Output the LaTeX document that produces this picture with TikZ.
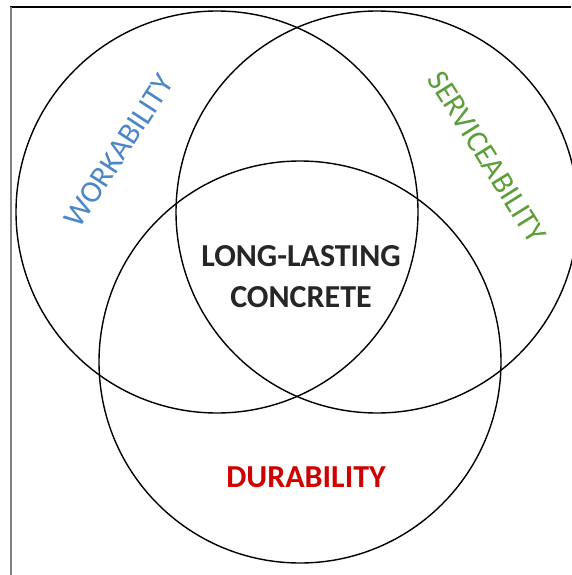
\documentclass[tikz,border=0pt]{standalone}
\usepackage{fontspec}
\setmainfont{Carlito}
\definecolor{workblue}{RGB}{74,134,200}
\definecolor{servgreen}{RGB}{92,158,58}
\definecolor{durared}{RGB}{208,0,0}
\definecolor{coretext}{RGB}{38,38,38}
\begin{document}
\begin{tikzpicture}[x=1pt,y=-1pt,
	ring/.style={draw=black,line width=1.4pt},
	sidetxt/.style={font=\fontsize{31}{36}\selectfont,inner sep=0pt},
	midtxt/.style={font=\fontsize{32}{38}\selectfont\bfseries,inner sep=0pt,anchor=base}]
	\useasboundingbox (0,0) rectangle (571,575);

	% frame
	\draw[line width=1.3pt] (10,7) -- (571,7);
	\draw[line width=1.5pt,black!50] (11,7) -- (11,575);

	% the three circles
	\draw[ring] (217,212) circle (201);
	\draw[ring] (377,212) circle (201);
	\draw[ring] (300,362) circle (201);

	\node[sidetxt,workblue,rotate=57] (work) at (119,151) {WORKABILITY};
	\node[sidetxt,servgreen,rotate=-58] (serv) at (487,157) {SERVICEABILITY};
	\node[midtxt,coretext] (long) at (301,266) {LONG-LASTING};
	\node[midtxt,coretext] (conc) at (301,307) {CONCRETE};
	\node[midtxt,durared] (dura) at (306,487) {DURABILITY};
\end{tikzpicture}
\end{document}
